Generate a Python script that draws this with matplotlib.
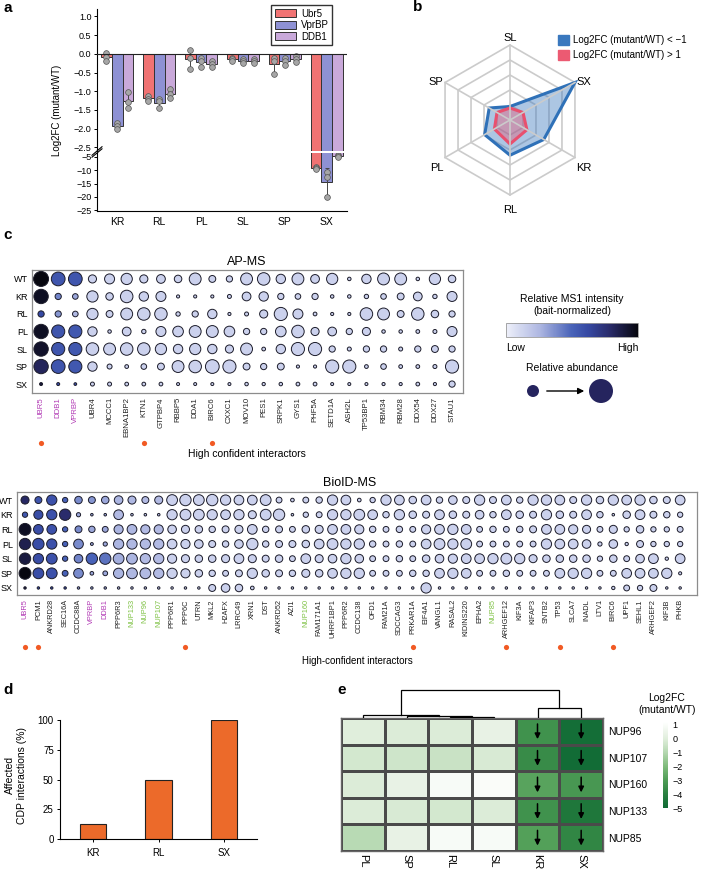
import numpy as np
import matplotlib.pyplot as plt
import matplotlib.transforms as mtransforms
from matplotlib.colors import LinearSegmentedColormap, Normalize
from matplotlib.cm import ScalarMappable
from matplotlib.patches import Patch, Polygon

plt.rcParams['font.family'] = ['Liberation Sans', 'DejaVu Sans']
plt.rcParams['font.size'] = 7
plt.rcParams['axes.linewidth'] = 0.8

W, H = 701, 873

# ---------------- data: panel a (bar chart, replicates per mutant)
mutants = ['KR', 'RL', 'PL', 'SL', 'SP', 'SX']
baits = ['Ubr5', 'VprBP', 'DDB1']
bait_colors = ['#F07373', '#8E91D4', '#C9A9DA']
ubr5_reps = [[0.02, -0.08, -0.18], [-1.12, -1.2, -1.26], [0.1, -0.1, -0.4],
             [-0.1, -0.15, -0.2], [-0.1, -0.2, -0.55], [-8.8, -9.3, -9.6]]
vprbp_reps = [[-1.85, -1.92, -2.0], [-1.2, -1.27, -1.45], [-0.1, -0.2, -0.35],
              [-0.15, -0.2, -0.24], [-0.1, -0.2, -0.3], [-10.5, -12.5, -20.0]]
ddb1_reps = [[-1.02, -1.3, -1.44], [-0.94, -1.08, -1.17], [-0.2, -0.28, -0.36],
             [-0.14, -0.2, -0.24], [-0.05, -0.15, -0.22], [-4.3, -4.6, -4.9]]

# ---------------- data: panel b (radar)
radar_labels = ['SL', 'SX', 'KR', 'RL', 'PL', 'SP']
loss_values = [0.9, 5.0, 2.6, 2.35, 1.95, 1.6]
gain_values = [0.8, 1.0, 1.3, 1.6, 1.2, 1.0]

# ---------------- data: panel c (dot plots)
conditions = ['WT', 'KR', 'RL', 'PL', 'SL', 'SP', 'SX']
ap_genes = ['UBR5', 'DDB1', 'VPRBP', 'UBR4', 'MCCC1', 'EBNA1BP2', 'KTN1', 'GTPBP4',
            'RBBP5', 'DDA1', 'BIRC6', 'CXXC1', 'MOV10', 'PES1', 'SRPK1', 'GYS1',
            'PHF5A', 'SETD1A', 'ASH2L', 'TP53BP1', 'RBM34', 'RBM28', 'DDX54',
            'DDX27', 'STAU1']
ap_bait_genes = ['UBR5', 'DDB1', 'VPRBP']
ap_marked = ['UBR5', 'KTN1', 'BIRC6']
ap_size = [
    [1.0, 0.9, 0.9, 0.45, 0.6, 0.7, 0.45, 0.5, 0.4, 0.75, 0.35, 0.3, 0.75, 0.8, 0.55, 0.75, 0.5, 0.7, 0.08, 0.55, 0.75, 0.75, 0.08, 0.7, 0.4],
    [0.95, 0.3, 0.25, 0.7, 0.4, 0.8, 0.55, 0.6, 0.05, 0.05, 0.05, 0.12, 0.5, 0.55, 0.3, 0.25, 0.3, 0.08, 0.08, 0.15, 0.25, 0.35, 0.5, 0.15, 0.6],
    [0.3, 0.3, 0.25, 0.7, 0.35, 0.75, 0.8, 0.8, 0.15, 0.3, 0.55, 0.05, 0.12, 0.45, 0.85, 0.6, 0.1, 0.05, 0.05, 0.8, 0.75, 0.35, 0.8, 0.4, 0.3],
    [0.95, 0.85, 0.85, 0.55, 0.08, 0.5, 0.15, 0.6, 0.65, 0.75, 0.75, 0.65, 0.3, 0.3, 0.65, 0.8, 0.45, 0.5, 0.3, 0.45, 0.08, 0.08, 0.1, 0.12, 0.6],
    [0.95, 0.85, 0.85, 0.8, 0.75, 0.8, 0.8, 0.7, 0.55, 0.7, 0.55, 0.45, 0.75, 0.1, 0.55, 0.85, 0.85, 0.3, 0.12, 0.3, 0.3, 0.12, 0.3, 0.35, 0.3],
    [0.95, 0.9, 0.85, 0.55, 0.2, 0.1, 0.25, 0.35, 0.75, 0.8, 0.9, 0.85, 0.35, 0.3, 0.35, 0.05, 0.05, 0.85, 0.85, 0.1, 0.25, 0.1, 0.1, 0.12, 0.85],
    [0.04, 0.04, 0.02, 0.12, 0.12, 0.1, 0.1, 0.1, 0.04, 0.04, 0.04, 0.04, 0.08, 0.06, 0.08, 0.1, 0.1, 0.04, 0.04, 0.04, 0.05, 0.05, 0.1, 0.05, 0.3],
]
ap_bait_intensity = [[1.0, 0.56, 0.56], [0.95, 0.4, 0.3], [0.62, 0.35, 0.25], [0.95, 0.56, 0.55],
                     [0.93, 0.56, 0.55], [0.82, 0.56, 0.55], [0.9, 0.6, 0.6]]
ap_other_intensity = 0.14

bio_genes = ['UBR5', 'PCM1', 'ANKRD28', 'SEC16A', 'CCDC88A', 'VPRBP', 'DDB1', 'PPP6R3',
             'NUP133', 'NUP96', 'NUP107', 'PPP6R1', 'PPP6C', 'UTRN', 'MKL2', 'H2AFX',
             'LRRC49', 'XRN1', 'DST', 'ANKRD52', 'AZI1', 'NUP160', 'FAM171A1',
             'UHRF1BP1', 'PPP6R2', 'CCDC138', 'OFD1', 'FAM21A', 'SDCCAG3', 'PRKAR1A',
             'EIF4A1', 'VANGL1', 'RASAL2', 'KIDINS220', 'EPHA2', 'NUP85', 'ARHGEF12',
             'KIF3A', 'KIFAP3', 'SNTB2', 'TP53', 'SLCA7', 'INADL', 'LTV1', 'BIRC6',
             'UPF1', 'SEHL1', 'ARHGEF2', 'KIF3B', 'PHKB']
bio_bait_genes = ['UBR5', 'VPRBP', 'DDB1']
bio_nup_genes = ['NUP133', 'NUP96', 'NUP107', 'NUP160', 'NUP85']
bio_marked = ['UBR5', 'PCM1', 'PPP6C', 'PRKAR1A', 'ARHGEF12', 'TP53', 'BIRC6']
bio_size = [
    [0.55, 0.45, 0.75, 0.3, 0.5, 0.45, 0.5, 0.6, 0.55, 0.45, 0.55, 0.8, 0.85, 0.8, 0.85, 0.75, 0.7, 0.7, 0.8, 0.35, 0.15, 0.35, 0.4, 0.75, 0.7,
     0.15, 0.3, 0.75, 0.7, 0.5, 0.7, 0.4, 0.6, 0.45, 0.75, 0.45, 0.7, 0.4, 0.75, 0.75, 0.7, 0.45, 0.75, 0.5, 0.75, 0.7, 0.75, 0.5, 0.45, 0.7],
    [0.3, 0.65, 0.75, 0.85, 0.2, 0.05, 0.05, 0.7, 0.05, 0.05, 0.05, 0.75, 0.8, 0.8, 0.75, 0.7, 0.75, 0.55, 0.8, 0.85, 0.05, 0.3, 0.35, 0.75, 0.75,
     0.8, 0.7, 0.4, 0.75, 0.5, 0.45, 0.7, 0.5, 0.45, 0.6, 0.4, 0.7, 0.5, 0.45, 0.75, 0.5, 0.45, 0.7, 0.4, 0.05, 0.5, 0.7, 0.45, 0.4, 0.3],
    [0.9, 0.7, 0.7, 0.3, 0.45, 0.4, 0.35, 0.65, 0.7, 0.65, 0.65, 0.6, 0.55, 0.5, 0.4, 0.45, 0.55, 0.7, 0.4, 0.45, 0.35, 0.5, 0.55, 0.7, 0.7,
     0.65, 0.4, 0.35, 0.4, 0.35, 0.65, 0.7, 0.75, 0.7, 0.35, 0.4, 0.35, 0.4, 0.45, 0.7, 0.7, 0.65, 0.55, 0.35, 0.55, 0.3, 0.5, 0.3, 0.3, 0.35],
    [0.85, 0.85, 0.75, 0.3, 0.7, 0.08, 0.2, 0.75, 0.75, 0.75, 0.75, 0.7, 0.65, 0.6, 0.45, 0.4, 0.6, 0.85, 0.4, 0.45, 0.45, 0.5, 0.7, 0.8, 0.75,
     0.75, 0.4, 0.35, 0.4, 0.35, 0.7, 0.8, 0.75, 0.8, 0.35, 0.35, 0.35, 0.35, 0.35, 0.75, 0.7, 0.7, 0.6, 0.2, 0.6, 0.12, 0.45, 0.3, 0.3, 0.3],
    [0.85, 0.75, 0.8, 0.3, 0.6, 0.85, 0.85, 0.8, 0.8, 0.75, 0.75, 0.65, 0.55, 0.5, 0.5, 0.55, 0.7, 0.55, 0.45, 0.5, 0.35, 0.7, 0.55, 0.6, 0.75,
     0.6, 0.35, 0.35, 0.4, 0.35, 0.5, 0.6, 0.65, 0.7, 0.7, 0.75, 0.8, 0.75, 0.55, 0.5, 0.5, 0.5, 0.5, 0.3, 0.5, 0.35, 0.6, 0.7, 0.12, 0.7],
    [0.9, 0.8, 0.8, 0.35, 0.7, 0.15, 0.25, 0.75, 0.8, 0.8, 0.75, 0.75, 0.65, 0.5, 0.4, 0.35, 0.45, 0.75, 0.5, 0.45, 0.4, 0.55, 0.5, 0.7, 0.75,
     0.75, 0.35, 0.35, 0.35, 0.4, 0.4, 0.7, 0.75, 0.7, 0.35, 0.35, 0.4, 0.35, 0.35, 0.35, 0.7, 0.75, 0.75, 0.35, 0.35, 0.7, 0.7, 0.7, 0.75, 0.1],
    [0.04, 0.04, 0.04, 0.04, 0.04, 0.04, 0.04, 0.04, 0.04, 0.04, 0.04, 0.04, 0.04, 0.04, 0.45, 0.6, 0.5, 0.15, 0.04, 0.04, 0.04, 0.04, 0.04, 0.04, 0.04,
     0.04, 0.04, 0.04, 0.04, 0.04, 0.75, 0.04, 0.04, 0.04, 0.04, 0.04, 0.04, 0.04, 0.04, 0.04, 0.04, 0.04, 0.04, 0.04, 0.12, 0.35, 0.3, 0.45, 0.04, 0.04],
]
bio_bait_intensity = [  # first 11 columns, per condition
    [0.8, 0.56, 0.58, 0.5, 0.38, 0.35, 0.3, 0.26, 0.25, 0.24, 0.24],
    [0.55, 0.6, 0.58, 0.78, 0.3, 0.3, 0.3, 0.24, 0.2, 0.2, 0.2],
    [0.95, 0.6, 0.58, 0.5, 0.38, 0.3, 0.3, 0.26, 0.25, 0.24, 0.24],
    [0.85, 0.6, 0.58, 0.5, 0.38, 0.3, 0.3, 0.26, 0.25, 0.24, 0.24],
    [0.88, 0.6, 0.58, 0.5, 0.4, 0.5, 0.45, 0.28, 0.26, 0.24, 0.24],
    [1.0, 0.6, 0.58, 0.5, 0.38, 0.3, 0.3, 0.26, 0.25, 0.24, 0.24],
    [0.9, 0.6, 0.6, 0.6, 0.3, 0.3, 0.3, 0.2, 0.2, 0.2, 0.2],
]
bio_other_intensity = 0.14

# ---------------- data: panel d
d_mutants = ['KR', 'RL', 'SX']
d_affected = [12.5, 50, 100]

# ---------------- data: panel e
heat_cols = ['PL', 'SP', 'RL', 'SL', 'KR', 'SX']
nup_rows = ['NUP96', 'NUP107', 'NUP160', 'NUP133', 'NUP85']
nup_fc = [
    [0.0, -0.1, -0.1, 0.3, -3.4, -4.8],
    [-0.3, -0.4, -0.5, -0.2, -3.6, -4.9],
    [-0.1, 0.3, 0.9, 1.0, -2.8, -3.2],
    [-0.1, -0.2, -0.3, -0.1, -3.4, -4.4],
    [-0.9, 0.3, 0.9, 0.9, -2.9, -3.8],
]
arrow_cols = ['KR', 'SX']
# linkage (scipy style: leaves 0..5, new clusters numbered from 6)
dendro_links = [(2, 3, 0.04), (1, 6, 0.08), (0, 7, 0.12), (4, 5, 0.36), (8, 9, 1.0)]


def px_box(l, t, r, b):
    return [l / W, 1 - b / H, (r - l) / W, (b - t) / H]


def ftext(x, y, s, **kw):
    fig.text(x / W, 1 - y / H, s, **kw)


fig = plt.figure(figsize=(W / 100, H / 100), dpi=100)

# ======================= panel a
ax_top = fig.add_axes(px_box(97, 9, 347, 151))
ax_bot = fig.add_axes(px_box(97, 153, 347, 211))
xg = np.arange(len(mutants))
bw = 0.26
for k, reps in enumerate([ubr5_reps, vprbp_reps, ddb1_reps]):
    reps = np.array(reps)
    means = reps.mean(axis=1)
    sds = reps.std(axis=1, ddof=1)
    xs = xg + (k - 1) * bw
    for ax in (ax_top, ax_bot):
        ax.bar(xs, means, bw, color=bait_colors[k], edgecolor='#333333', linewidth=0.7, zorder=2)
        ax.errorbar(xs, means, yerr=sds, fmt='none', ecolor='#444444', elinewidth=0.7,
                    capsize=1.5, capthick=0.7, zorder=3)
        ax.scatter(np.repeat(xs, 3), reps.ravel(), s=17, color='#A6A6A6',
                   edgecolor='#555555', linewidth=0.5, zorder=4)
for ax in (ax_top, ax_bot):
    ax.set_xlim(-0.48, 5.48)
    ax.spines['right'].set_visible(False)
    ax.spines['top'].set_visible(False)
    ax.tick_params(labelsize=6.5, length=2.5, width=0.7, pad=1.5)
ax_top.spines['bottom'].set_visible(False)
ax_top.set_ylim(-2.6, 1.2)
ax_top.set_yticks(np.arange(-2.5, 1.01, 0.5))
ax_top.set_yticklabels([f'{v:.1f}'.replace('-', '\u2212') for v in np.arange(-2.5, 1.01, 0.5)])
ax_top.set_xticks([])
ax_top.axhline(0, color='#222222', lw=0.8, zorder=5)
ax_bot.set_ylim(-25.3, -3.5)
ax_bot.set_yticks([-25, -20, -15, -10, -5])
ax_bot.set_xticks(xg)
ax_bot.set_xticklabels(mutants, fontsize=7.5)
ax_bot.tick_params(axis='x', length=0, pad=4)
# break marks on the y axis
for ax, yy, f in ((ax_top, 0.0, 1.0), (ax_bot, 1.0, 2.4)):
    ax.plot([-0.02, 0.02], [yy - 0.03 * f, yy + 0.03 * f],
            transform=ax.transAxes, color='k', lw=0.8, clip_on=False)
ftext(57, 110, 'Log2FC (mutant/WT)', rotation=90, ha='center', va='center', fontsize=7)
ax_top.legend(handles=[Patch(facecolor=c, edgecolor='#333333', lw=0.7, label=b)
                       for c, b in zip(bait_colors, baits)],
              loc='upper right', bbox_to_anchor=(0.96, 1.06), fontsize=7, frameon=True,
              fancybox=False, edgecolor='#333333', framealpha=1, handlelength=2.2,
              handleheight=0.9, borderpad=0.35, labelspacing=0.15, handletextpad=0.5)

# ======================= panel b
ax_b = fig.add_axes(px_box(420, 30, 600, 210))
ang = np.deg2rad(90 - 60 * np.arange(6))
for r in range(1, 6):
    ax_b.add_patch(Polygon(np.c_[r * np.cos(ang), r * np.sin(ang)], closed=True, fill=False,
                           edgecolor='#CBCBCB', lw=1.2))
for a in ang:
    ax_b.plot([0, 5 * np.cos(a)], [0, 5 * np.sin(a)], color='#CBCBCB', lw=1.2)
lv = np.array(loss_values)
gv = np.array(gain_values)
ax_b.add_patch(Polygon(np.c_[lv * np.cos(ang), lv * np.sin(ang)], closed=True,
                       facecolor='#3A77BD', alpha=0.42, edgecolor='none'))
ax_b.add_patch(Polygon(np.c_[lv * np.cos(ang), lv * np.sin(ang)], closed=True,
                       fill=False, edgecolor='#2F71B8', lw=2.2))
ax_b.add_patch(Polygon(np.c_[gv * np.cos(ang), gv * np.sin(ang)], closed=True,
                       facecolor='#E85A75', alpha=0.42, edgecolor='none'))
ax_b.add_patch(Polygon(np.c_[gv * np.cos(ang), gv * np.sin(ang)], closed=True,
                       fill=False, edgecolor='#E8506E', lw=2.2))
lab_pos = [(0, 5.15, 'center', 'bottom'), (4.4, 2.53, 'left', 'center'),
           (4.4, -3.2, 'left', 'center'), (0, -5.65, 'center', 'top'),
           (-4.45, -3.2, 'right', 'center'), (-4.45, 2.53, 'right', 'center')]
for lab, (lx, ly, ha, va) in zip(radar_labels, lab_pos):
    ax_b.text(lx, ly, lab, ha=ha, va=va, fontsize=8)
ax_b.set_xlim(-6, 6)
ax_b.set_ylim(-6, 6)
ax_b.axis('off')
fig.legend(handles=[Patch(facecolor='#3A78BE', edgecolor='#3A78BE', label='Log2FC (mutant/WT) < \u22121'),
                    Patch(facecolor='#EC5A72', edgecolor='#EC5A72', label='Log2FC (mutant/WT) > 1')],
           loc='upper left', bbox_to_anchor=(553 / W, 1 - 30 / H), frameon=False, fontsize=7,
           handlelength=1.1, handleheight=1.2, handletextpad=0.5, labelspacing=0.5, borderpad=0)

# ======================= panel c
ms_cmap = LinearSegmentedColormap.from_list(
    'ms', [(0, '#EEF0FA'), (0.25, '#AFB8E2'), (0.5, '#4862B8'), (0.62, '#3649A3'),
           (0.78, '#2A2C6C'), (1, '#07070F')])


def dot_grid(ax, sizes, intensity, dmin, dspan):
    sizes = np.array(sizes)
    nr, nc = sizes.shape
    cc, rr = np.meshgrid(np.arange(nc), np.arange(nr))
    d_px = dmin + dspan * sizes
    ax.scatter(cc.ravel(), rr.ravel(), s=(d_px.ravel() * 0.72) ** 2, c=np.array(intensity).ravel(),
               cmap=ms_cmap, vmin=0, vmax=1, edgecolors='#1C1C2A', linewidths=0.7, zorder=3)


def style_grid(ax, genes, rows, special, marked, mark_y, fs):
    ax.set_yticks(range(len(rows)))
    ax.set_yticklabels(rows, fontsize=6.5)
    ax.set_xticks(range(len(genes)))
    ax.set_xticklabels(genes, rotation=90, fontsize=fs)
    ax.tick_params(length=0, pad=3)
    for t in ax.get_xticklabels():
        t.set_color(special.get(t.get_text(), '#222222'))
    for s in ax.spines.values():
        s.set_color('#8C8C8C')
        s.set_linewidth(0.9)
    tr = mtransforms.blended_transform_factory(ax.transData, ax.transAxes)
    mx = [genes.index(g) for g in marked]
    ax.scatter(mx, [mark_y] * len(mx), s=14, color='#F15A24', transform=tr, clip_on=False, lw=0)


ap_int = np.full((len(conditions), len(ap_genes)), ap_other_intensity)
ap_int[:, :3] = ap_bait_intensity
ax_ap = fig.add_axes(px_box(32, 270, 463, 393))
dot_grid(ax_ap, ap_size, ap_int, 2.5, 12.5)
ax_ap.set_xlim(-0.53, 24.64)
ax_ap.set_ylim(6.51, -0.51)
style_grid(ax_ap, ap_genes, conditions, {g: '#B23BB5' for g in ap_bait_genes}, ap_marked, -0.41, 5.6)
ftext(247, 262, 'AP-MS', ha='center', va='center', fontsize=9)
ftext(247, 454, 'High confident interactors', ha='center', va='center', fontsize=7.5)

bio_int = np.full((len(conditions), len(bio_genes)), bio_other_intensity)
bio_int[:, :11] = bio_bait_intensity
ax_bio = fig.add_axes(px_box(17, 492, 697, 595))
dot_grid(ax_bio, bio_size, bio_int, 2.0, 11.0)
ax_bio.set_xlim(-0.6, 50.26)
ax_bio.set_ylim(6.48, -0.55)
special = {g: '#B23BB5' for g in bio_bait_genes}
special.update({g: '#7DC142' for g in bio_nup_genes})
style_grid(ax_bio, bio_genes, conditions, special, bio_marked, -0.505, 5.3)
ftext(350, 483, 'BioID-MS', ha='center', va='center', fontsize=9)
ftext(357, 661, 'High-confident interactors', ha='center', va='center', fontsize=7)

# legend for dot plots
ftext(572, 299, 'Relative MS1 intensity', ha='center', va='center', fontsize=7.5)
ftext(572, 311, '(bait-normalized)', ha='center', va='center', fontsize=7.5)
cax_c = fig.add_axes(px_box(506, 323, 638, 337))
cb_c = fig.colorbar(ScalarMappable(norm=Normalize(0, 1), cmap=ms_cmap), cax=cax_c, orientation='horizontal')
cb_c.set_ticks([])
cb_c.outline.set_edgecolor('#999999')
cb_c.outline.set_linewidth(0.6)
ftext(506, 348, 'Low', ha='left', va='center', fontsize=7.5)
ftext(638, 348, 'High', ha='right', va='center', fontsize=7.5)
ftext(572, 368, 'Relative abundance', ha='center', va='center', fontsize=7.5)
leg_ax = fig.add_axes(px_box(500, 375, 640, 407))
leg_ax.set_xlim(500, 640)
leg_ax.set_ylim(407, 375)
leg_ax.axis('off')
leg_ax.scatter([533, 601], [391, 391], s=[(12 * 0.72) ** 2, (24 * 0.72) ** 2], color='#25245E', lw=0)
leg_ax.annotate('', xy=(587, 391), xytext=(544, 391),
                arrowprops=dict(arrowstyle='-|>', color='black', lw=1.0, mutation_scale=9))

# ======================= panel d
ax_d = fig.add_axes(px_box(60, 720, 257, 839))
ax_d.bar(range(len(d_mutants)), d_affected, 0.4, color='#EC6A2A', edgecolor='#222222', lw=0.8)
ax_d.set_xlim(-0.5, 2.5)
ax_d.set_ylim(0, 100)
ax_d.set_yticks([0, 25, 50, 75, 100])
ax_d.set_xticks(range(len(d_mutants)))
ax_d.set_xticklabels(d_mutants, fontsize=8)
ax_d.tick_params(labelsize=7, length=2.5, width=0.7, pad=2)
ax_d.tick_params(axis='x', pad=4)
ax_d.spines['right'].set_visible(False)
ax_d.spines['top'].set_visible(False)
ftext(16, 775, 'Affected\nCDP interactions (%)', rotation=90, ha='center', va='center',
      fontsize=7.5, multialignment='center')

# ======================= panel e
green_cmap = LinearSegmentedColormap.from_list(
    'g', [(0, '#0F6A35'), (0.161, '#2A8040'), (0.323, '#4F9D56'), (0.484, '#7FBB7B'),
          (0.645, '#B3D7AF'), (0.806, '#E0EEDC'), (1, '#FFFFFF')])
ax_e = fig.add_axes(px_box(341, 718, 603, 851))
ax_e.pcolormesh(np.array(nup_fc), cmap=green_cmap, vmin=-5, vmax=1.2,
                edgecolors='#4A4A4A', linewidth=0.8)
ax_e.set_xlim(0, len(heat_cols))
ax_e.set_ylim(len(nup_rows), 0)
ax_e.set_xticks(np.arange(len(heat_cols)) + 0.5)
ax_e.set_xticklabels(heat_cols, rotation=270, fontsize=8)
ax_e.set_yticks(np.arange(len(nup_rows)) + 0.5)
ax_e.set_yticklabels(nup_rows, fontsize=7.5)
ax_e.yaxis.tick_right()
ax_e.tick_params(length=0, pad=4)
ax_e.tick_params(axis='x', pad=2)
for s in ax_e.spines.values():
    s.set_color('#666666')
    s.set_linewidth(1.0)
for j in [heat_cols.index(c) for c in arrow_cols]:
    for i in range(len(nup_rows)):
        ax_e.annotate('', xy=(j + 0.5, i + 0.9), xytext=(j + 0.5, i + 0.12),
                      arrowprops=dict(arrowstyle='-|>', color='black', lw=1.1, mutation_scale=8))

ax_den = fig.add_axes(px_box(341, 688, 603, 718))
node_x = {i: i + 0.5 for i in range(len(heat_cols))}
node_h = {i: 0.0 for i in range(len(heat_cols))}
for k, (a, b, h) in enumerate(dendro_links):
    ax_den.plot([node_x[a], node_x[a], node_x[b], node_x[b]], [node_h[a], h, h, node_h[b]],
                color='black', lw=0.9, solid_joinstyle='miter')
    node_x[len(heat_cols) + k] = (node_x[a] + node_x[b]) / 2
    node_h[len(heat_cols) + k] = h
ax_den.set_xlim(0, len(heat_cols))
ax_den.set_ylim(0, 1.07)
ax_den.axis('off')

cax_e = fig.add_axes(px_box(663, 722, 668, 808))
cb_e = fig.colorbar(ScalarMappable(norm=Normalize(-5, 1.2), cmap=green_cmap), cax=cax_e)
cb_e.set_ticks([1, 0, -1, -2, -3, -4, -5])
cb_e.ax.tick_params(labelsize=6.5, length=0, pad=3)
cb_e.outline.set_visible(False)
ftext(667, 698, 'Log2FC', ha='center', va='center', fontsize=7.5)
ftext(667, 710, '(mutant/WT)', ha='center', va='center', fontsize=7.5)

# ======================= panel letters
for lab, (px, py) in zip('abcde', [(3, 8), (413, 7), (3, 235), (3, 690), (337, 690)]):
    ftext(px, py, lab, fontsize=11, fontweight='bold', ha='left', va='center')

fig.savefig('out.png', dpi=100)
